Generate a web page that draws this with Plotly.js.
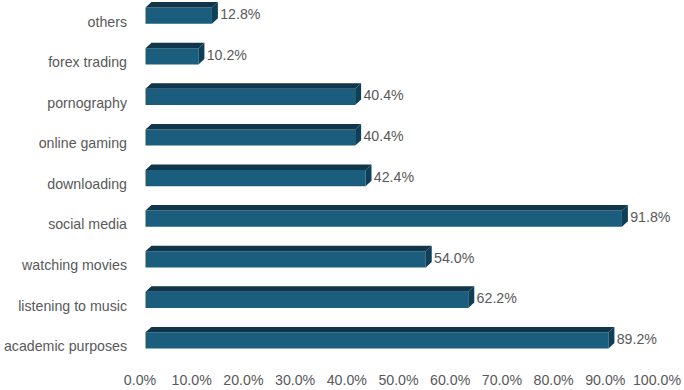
<!DOCTYPE html>
<html>
<head>
<meta charset="utf-8">
<script src="https://cdn.plot.ly/plotly-3.0.1.min.js"></script>
<style>html,body{margin:0;padding:0;background:#fff;}#chart{width:684px;height:390px;}</style>
</head>
<body>
<div id="chart"></div>
<script>
// Data (bottom to top)
const categories = ["academic purposes","listening to music","watching movies","social media","downloading","online gaming","pornography","forex trading","others"];
const values = [89.2, 62.2, 54.0, 91.8, 42.4, 40.4, 40.4, 10.2, 12.8];
const labels = ["89.2%","62.2%","54.0%","91.8%","42.4%","40.4%","40.4%","10.2%","12.8%"];
const xTickVals = [0,10,20,30,40,50,60,70,80,90,100];
const xTickText = ["0.0%","10.0%","20.0%","30.0%","40.0%","50.0%","60.0%","70.0%","80.0%","90.0%","100.0%"];

// 3D styling
const frontColor = "#1b5d7d";
const topColor = "#0f364b";
const sideColor = "#103e55";
const barH = 0.4;   // front face height (category units)
const dx = 1.15;    // depth in x (% units)
const dy = 0.135;   // depth in y (category units)
const labelGap = 0.45;

const idx = categories.map((c,i)=>i);

let tx=[], ty=[], sx=[], sy=[];
values.forEach((v,i)=>{
  const t = i + barH/2, b = i - barH/2;
  tx.push(0, v, v+dx, dx, 0, null);
  ty.push(t, t, t+dy, t+dy, t, null);
  sx.push(v, v, v+dx, v+dx, v, null);
  sy.push(b, t, t+dy, b+dy, b, null);
});

const font = {family: "Liberation Sans, Arial, sans-serif", size: 14.2, color: "#595959"};

const traces = [
  // anchor trace so the visible axes (labels) are drawn
  {type:"scatter", mode:"markers", x:[0,100], y:[0,8], xaxis:"x", yaxis:"y",
   marker:{opacity:0, size:1}, hoverinfo:"skip"},
  {type:"bar", orientation:"h", x: values, y: idx, width: barH, xaxis:"x2", yaxis:"y2",
   marker:{color: frontColor, line:{width:0}}, hoverinfo:"skip"},
  {type:"scatter", mode:"lines", x: tx, y: ty, xaxis:"x2", yaxis:"y2", fill:"toself", fillcolor: topColor,
   line:{width:0, color: topColor}, hoverinfo:"skip"},
  {type:"scatter", mode:"lines", x: sx, y: sy, xaxis:"x2", yaxis:"y2", fill:"toself", fillcolor: sideColor,
   line:{width:0, color: sideColor}, hoverinfo:"skip"},
  {type:"scatter", mode:"text", x: values.map(v=>v+dx+labelGap), y: idx, xaxis:"x2", yaxis:"y2", text: labels,
   textposition:"middle right", textfont: font, hoverinfo:"skip", cliponaxis:false}
];

const layout = {
  width: 684, height: 390,
  margin: {l: 139.5, r: 26.5, t: 0, b: 20},
  paper_bgcolor: "#fff", plot_bgcolor: "#fff",
  showlegend: false,
  font: font,
  xaxis: {range:[0,100], tickvals: xTickVals, ticktext: xTickText, showgrid:false, zeroline:false,
          showline:false, ticks:"", tickfont: font, fixedrange:true},
  xaxis2: {overlaying:"x", range:[-1.058, 98.558], visible:false, fixedrange:true},
  yaxis: {range:[-0.587, 8.535], tickvals: idx, ticktext: categories, showgrid:false, zeroline:false,
          showline:false, ticks:"", tickfont: font, ticklabelstandoff: 12, fixedrange:true},
  yaxis2: {overlaying:"y", range:[-0.727, 8.387], visible:false, fixedrange:true}
};

Plotly.newPlot("chart", traces, layout, {displayModeBar:false, staticPlot:true});
</script>
</body>
</html>
